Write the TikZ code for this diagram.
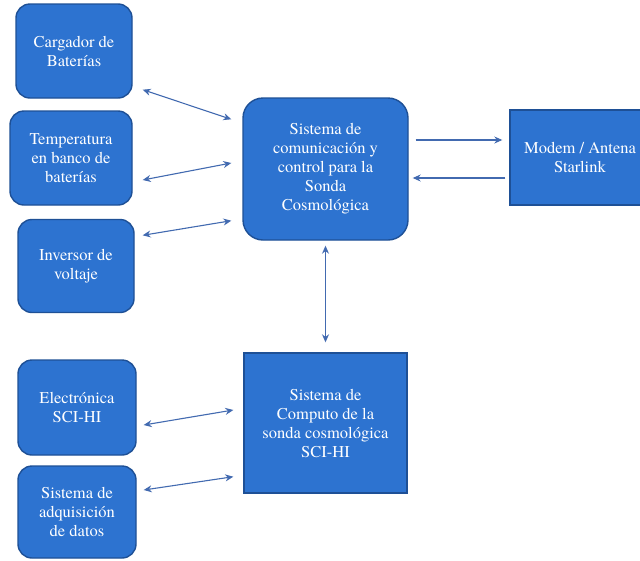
\documentclass[tikz,border=0pt]{standalone}
\usepackage{fontspec}
\newfontfamily\boxfont{TeX Gyre Termes}
\usetikzlibrary{arrows.meta}
\definecolor{boxblue}{RGB}{45,115,208}
\definecolor{edgeblue}{RGB}{30,80,150}
\definecolor{arrowblue}{RGB}{66,106,176}
\begin{document}
\begin{tikzpicture}[x=1pt, y=-1pt,
  blk/.style={draw=edgeblue, line width=1.4pt, fill=boxblue, text=white, align=center,
    font=\boxfont\fontsize{16.5}{19}\selectfont, inner sep=0pt, rounded corners=14pt},
  sqblk/.style={blk, rounded corners=0pt},
  link/.style={draw=arrowblue, line width=1.1pt, {Stealth[length=8pt,width=7pt]}-{Stealth[length=8pt,width=7pt]}},
  onelink/.style={draw=arrowblue, line width=1.1pt, -{Stealth[length=8pt,width=7pt]}}]
\useasboundingbox[fill=white] (0,0) rectangle (640,560);
\node[blk, minimum width=116pt, minimum height=94pt] (carg) at (74,51) {Cargador de\\Baterías};
\node[blk, minimum width=122pt, minimum height=94pt] (temp) at (71,158) {Temperatura\\en banco de\\baterías};
\node[blk, minimum width=116pt, minimum height=93pt] (inv) at (76,266) {Inversor de\\voltaje};
\node[blk, minimum width=165pt, minimum height=142pt, rounded corners=20pt] (comm) at (325.5,169) {Sistema de\\comunicación y\\control para la\\Sonda\\Cosmológica};
\node[sqblk, minimum width=140pt, minimum height=95pt] (modem) at (580,157.5) {Modem / Antena\\Starlink};
\node[blk, minimum width=118pt, minimum height=95pt] (elec) at (77,407.5) {Electrónica\\SCI-HI};
\node[blk, minimum width=118pt, minimum height=92pt] (adq) at (77,512) {Sistema de\\adquisición\\de datos};
\node[sqblk, minimum width=163pt, minimum height=140pt] (comp) at (325.5,423) {Sistema de\\Computo de la\\sonda cosmológica\\SCI-HI};
% conexiones
\draw[link] ([xshift=10pt,yshift=9pt]carg.south east) -- ([xshift=-11pt,yshift=-22pt]comm.north west);
\draw[link] ([xshift=10pt,yshift=-22pt]temp.east) -- ([xshift=-11pt,yshift=6pt]comm.west);
\draw[link] ([xshift=8pt,yshift=-16.5pt]inv.north east) -- ([xshift=-11pt,yshift=20pt]comm.south west);
\draw[onelink] ([xshift=7pt,yshift=29pt]comm.east) -- ([xshift=-7pt,yshift=17.5pt]modem.west);
\draw[onelink] ([xshift=-4pt,yshift=-20.5pt]modem.west) -- ([xshift=4pt,yshift=-9pt]comm.east);
\draw[link] ([yshift=-5pt]comm.south) -- ([yshift=10pt]comp.north);
\draw[link] ([xshift=7pt,yshift=-17.5pt]elec.east) -- ([xshift=-10pt,yshift=13pt]comp.west);
\draw[link] ([xshift=7pt,yshift=22pt]adq.east) -- ([xshift=-10pt,yshift=17pt]comp.south west);
\end{tikzpicture}
\end{document}
